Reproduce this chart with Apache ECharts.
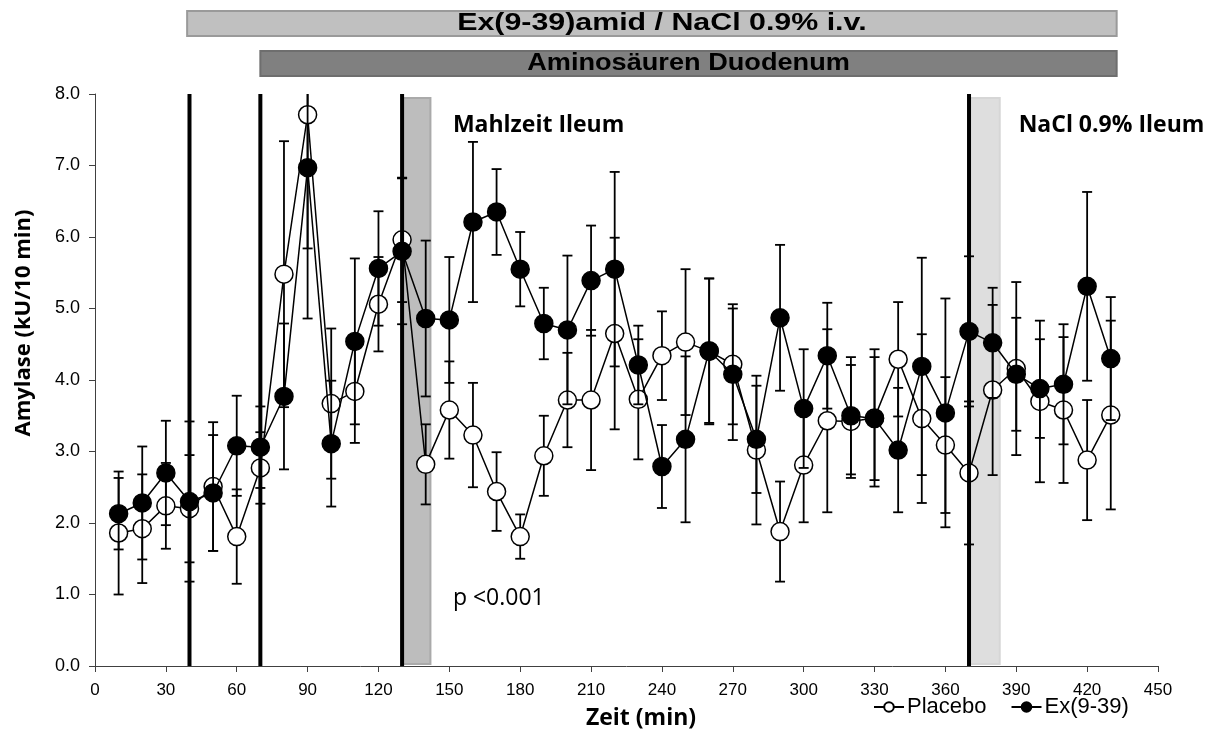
<!DOCTYPE html>
<html>
<head>
<meta charset="utf-8">
<title>Amylase</title>
<script src="https://cdn.jsdelivr.net/npm/echarts@6/dist/echarts.min.js"></script>
<style>
  html, body { margin: 0; padding: 0; background: #fff; }
  #chart { width: 1205px; height: 747px; }
</style>
</head>
<body>
<div id="chart"></div>
<script>
// Sampling times (min)
const times = [10, 20, 30, 40, 50, 60, 70, 80, 90, 100, 110, 120, 130, 140, 150, 160, 170, 180, 190, 200,
  210, 220, 230, 240, 250, 260, 270, 280, 290, 300, 310, 320, 330, 340, 350, 360, 370, 380, 390, 400,
  410, 420, 430];

// Amylase output, kU/10 min (mean and SEM)
const placeboMean = [1.86, 1.92, 2.24, 2.20, 2.51, 1.81, 2.77, 5.48, 7.71, 3.67, 3.84, 5.06, 5.96, 2.82,
  3.58, 3.23, 2.44, 1.81, 2.94, 3.72, 3.72, 4.65, 3.73, 4.34, 4.53, 4.40, 4.22, 3.02, 1.88, 2.81, 3.43,
  3.42, 3.47, 4.29, 3.46, 3.09, 2.70, 3.86, 4.16, 3.70, 3.58, 2.88, 3.51];
const placeboSem = [0.86, 0.76, 0.60, 0.75, 0.90, 0.66, 0.50, 1.86, 2.85, 1.05, 0.72, 0.66, 0.87, 0.56,
  0.68, 0.73, 0.55, 0.31, 0.56, 0.66, 0.98, 1.34, 0.84, 0.62, 1.02, 1.02, 0.84, 1.04, 0.70, 0.80, 1.28,
  0.79, 0.96, 0.80, 1.18, 0.95, 1.00, 1.19, 1.21, 1.13, 1.02, 0.84, 1.32];
const exMean = [2.13, 2.28, 2.70, 2.30, 2.42, 3.08, 3.06, 3.77, 6.97, 3.11, 4.54, 5.56, 5.80, 4.86, 4.84,
  6.21, 6.35, 5.55, 4.79, 4.70, 5.39, 5.55, 4.21, 2.79, 3.17, 4.41, 4.08, 3.17, 4.87, 3.60, 4.34, 3.50,
  3.46, 3.02, 4.19, 3.54, 4.68, 4.52, 4.08, 3.88, 3.94, 5.31, 4.30];
const exSem = [0.50, 0.79, 0.73, 1.12, 0.81, 0.70, 0.57, 1.02, 1.13, 0.88, 1.16, 0.80, 1.02, 1.09, 0.88,
  1.12, 0.60, 0.52, 0.50, 1.04, 0.77, 1.36, 0.55, 0.58, 1.16, 1.01, 0.92, 0.75, 1.02, 0.83, 0.74, 0.82,
  0.86, 0.87, 1.52, 1.60, 1.05, 0.77, 0.79, 0.69, 0.84, 1.32, 0.86];

// Axis ranges and tick steps
const xRange = [0, 450], xStep = 30;
const yRange = [0, 8], yStep = 1;

// Protocol events (min): start of infusions / meal and saline perfusion
const eventTimes = [40, 70, 130, 370];
// Ileal perfusion periods (min)
const ileumPeriods = [[130, 142], [370, 383]];
const ileumColors = ['#bdbdbd', '#dedede'];
// Infusion periods shown above the plot (min)
const infusionLabels = ['Ex(9-39)amid / NaCl 0.9% i.v.', 'Aminosäuren Duodenum'];
const infusionFrom = [39, 70];
const infusionTo = [432.5, 432.5];
const infusionColors = ['#c0c0c0', '#808080'];

const seriesNames = ['Placebo', 'Ex(9-39)'];

const pairs = (xs, ys) => xs.map((x, i) => [x, ys[i]]);
const errRows = (xs, m, s) => xs.map((x, i) => [x, m[i] - s[i], m[i] + s[i]]);

function errorBarItem(params, api) {
  const x = api.value(0);
  const lo = api.coord([x, api.value(1)]);
  const hi = api.coord([x, api.value(2)]);
  const cap = 5;
  const style = { stroke: '#000', lineWidth: 1.8 };
  return {
    type: 'group',
    children: [
      { type: 'line', shape: { x1: lo[0], y1: lo[1], x2: hi[0], y2: hi[1] }, style },
      { type: 'line', shape: { x1: hi[0] - cap, y1: hi[1], x2: hi[0] + cap, y2: hi[1] }, style },
      { type: 'line', shape: { x1: lo[0] - cap, y1: lo[1], x2: lo[0] + cap, y2: lo[1] }, style }
    ]
  };
}

function eventLineItem(params, api) {
  const t = api.value(0);
  const a = api.coord([t, yRange[0]]);
  const b = api.coord([t, yRange[1]]);
  return { type: 'line', shape: { x1: a[0], y1: a[1], x2: b[0], y2: b[1] },
    style: { stroke: '#000', lineWidth: 4 } };
}

function bandItem(params, api) {
  const a = api.coord([api.value(0), yRange[0]]);
  const b = api.coord([api.value(1), yRange[1]]);
  return { type: 'rect',
    shape: { x: a[0], y: b[1] + 4, width: b[0] - a[0], height: a[1] - b[1] - 6 },
    style: { fill: ileumColors[params.dataIndex], stroke: params.dataIndex === 0 ? '#aaaaaa' : '#d6d6d6', lineWidth: 2 } };
}

const chart = echarts.init(document.getElementById('chart'), null, { renderer: 'canvas' });

const labelFont = '"Liberation Sans", Arial, sans-serif';
const axisCommon = {
  axisLine: { show: true, lineStyle: { color: '#404040', width: 1 } },
  axisTick: { show: true, inside: false, length: 6, lineStyle: { color: '#404040' } },
  splitLine: { show: false },
  axisLabel: { color: '#000', fontSize: 17, fontFamily: labelFont, margin: 16 }
};

chart.setOption({
  animation: false,
  backgroundColor: '#fff',
  grid: { left: 95, right: 47, top: 94, bottom: 81, containLabel: false },
  xAxis: Object.assign({
    type: 'value', min: xRange[0], max: xRange[1], interval: xStep
  }, axisCommon),
  yAxis: Object.assign({
    type: 'value', min: yRange[0], max: yRange[1], interval: yStep
  }, axisCommon, {
    axisLabel: Object.assign({}, axisCommon.axisLabel, { fontSize: 18, formatter: v => v.toFixed(1), margin: 15 })
  }),
  legend: {
    data: seriesNames,
    left: 868, top: 691,
    itemWidth: 30, itemHeight: 12, itemGap: 24,
    textStyle: { color: '#000', fontSize: 22, fontFamily: labelFont, padding: [0, 0, 0, -2] }
  },
  series: [
    {
      type: 'custom', name: 'bands', z: 1, silent: true,
      renderItem: bandItem,
      data: ileumPeriods
    },
    {
      type: 'custom', name: 'Placebo SEM', z: 2, silent: true, clip: true,
      renderItem: errorBarItem,
      encode: { x: 0, y: [1, 2] },
      data: errRows(times, placeboMean, placeboSem)
    },
    {
      type: 'line', name: seriesNames[0], z: 3,
      data: pairs(times, placeboMean),
      symbol: 'circle', symbolSize: 18, showAllSymbol: true,
      lineStyle: { color: '#000', width: 1.5 },
      itemStyle: { color: '#fff', borderColor: '#000', borderWidth: 1.5 }
    },
    {
      type: 'custom', name: 'Ex SEM', z: 4, silent: true, clip: true,
      renderItem: errorBarItem,
      encode: { x: 0, y: [1, 2] },
      data: errRows(times, exMean, exSem)
    },
    {
      type: 'line', name: seriesNames[1], z: 5,
      data: pairs(times, exMean),
      symbol: 'circle', symbolSize: 18, showAllSymbol: true,
      lineStyle: { color: '#000', width: 1.5 },
      itemStyle: { color: '#000', borderColor: '#000', borderWidth: 1.5 }
    },
    {
      type: 'custom', name: 'events', z: 6, silent: true,
      renderItem: eventLineItem,
      data: eventTimes.map(t => [t])
    }
  ]
});

// Annotations placed from axis coordinates
const px = (t, v) => chart.convertToPixel({ xAxisIndex: 0, yAxisIndex: 0 }, [t, v]);
const graphics = [];

infusionLabels.forEach((label, i) => {
  const x0 = px(infusionFrom[i], 0)[0];
  const x1 = px(infusionTo[i], 0)[0];
  const top = i === 0 ? 11 : 51;
  graphics.push({
    type: 'rect', z: 10,
    shape: { x: x0, y: top, width: x1 - x0, height: 25 },
    style: { fill: infusionColors[i], stroke: i === 0 ? '#9a9a9a' : '#6e6e6e', lineWidth: 2 }
  });
  graphics.push({
    type: 'text', z: 11,
    x: (x0 + x1) / 2 + (i === 0 ? 10 : 0), y: top + 13,
    scaleX: i === 0 ? 1.32 : 1.18,
    style: {
      text: label, x: 0, y: 0, align: 'center', verticalAlign: 'middle',
      fill: '#000', font: 'bold 23px ' + labelFont
    }
  });
});

const boldFont = '"Open Sans", "Liberation Sans", sans-serif';
const mahl = px(151.5, 7.45);
const nacl = px(391, 7.45);
const pval = px(151.5, 0.85);
graphics.push(
  { type: 'text', z: 11, style: { text: 'Mahlzeit Ileum', x: mahl[0], y: 125, align: 'left', verticalAlign: 'middle',
    fill: '#000', font: 'bold 23px ' + boldFont } },
  { type: 'text', z: 11, style: { text: 'NaCl 0.9% Ileum', x: nacl[0], y: 125, align: 'left', verticalAlign: 'middle',
    fill: '#000', font: 'bold 23px ' + boldFont } },
  { type: 'text', z: 11, style: { text: 'p <0.001', x: pval[0], y: 598, align: 'left', verticalAlign: 'middle',
    fill: '#000', font: '23px ' + boldFont } },
  { type: 'text', z: 11, x: 24, y: 323, rotation: Math.PI / 2,
    style: { text: 'Amylase (kU/10 min)', x: 0, y: 0, align: 'center', verticalAlign: 'middle',
      fill: '#000', font: 'bold 22px ' + boldFont } },
  { type: 'text', z: 11, x: 641, y: 718,
    style: { text: 'Zeit (min)', x: 0, y: 0, align: 'center', verticalAlign: 'middle',
      fill: '#000', font: 'bold 23px ' + boldFont } }
);

chart.setOption({ graphic: graphics });
</script>
</body>
</html>
